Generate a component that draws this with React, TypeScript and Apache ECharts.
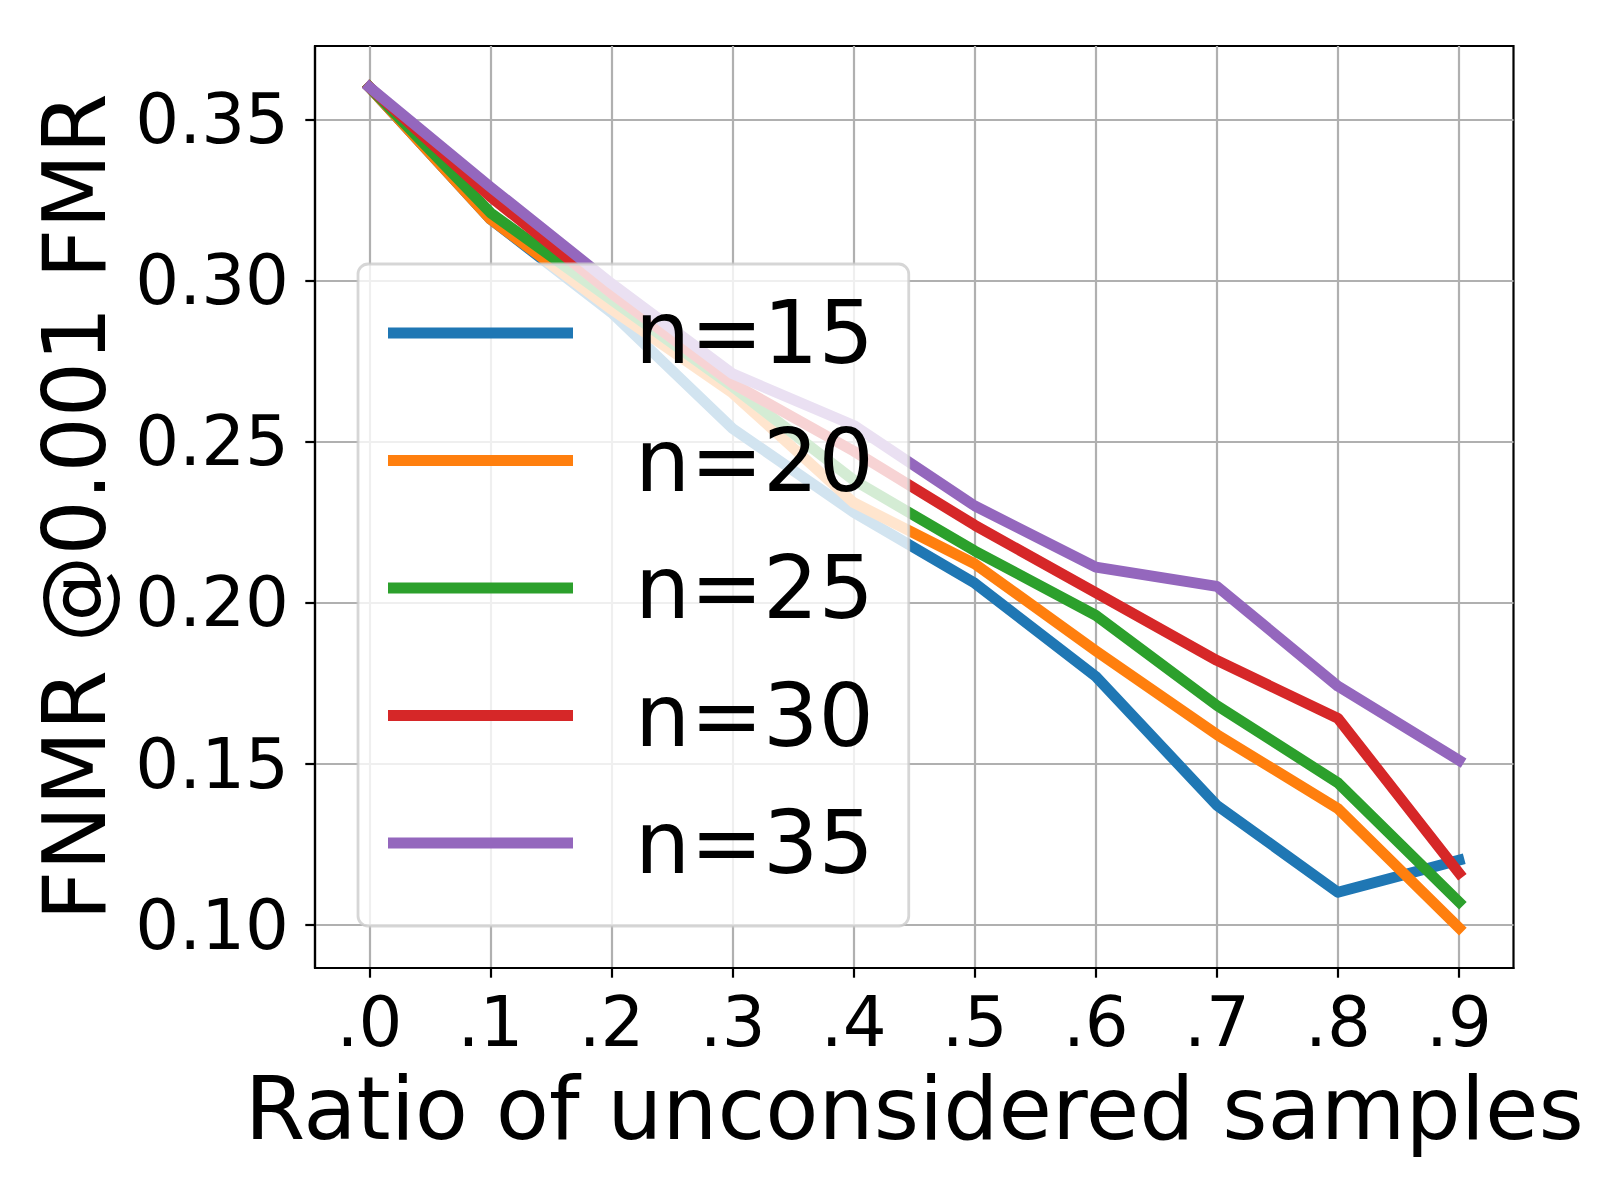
import React, { useEffect, useRef } from "react";
import * as echarts from "echarts";

const ratios = [0, 0.1, 0.2, 0.3, 0.4, 0.5, 0.6, 0.7, 0.8, 0.9];
const n15 = [0.36, 0.319, 0.29, 0.254, 0.228, 0.206, 0.177, 0.137, 0.11, 0.12];
const n20 = [0.36, 0.319, 0.291, 0.265, 0.231, 0.212, 0.185, 0.159, 0.136, 0.099];
const n25 = [0.36, 0.321, 0.294, 0.267, 0.238, 0.216, 0.196, 0.168, 0.144, 0.107];
const n30 = [0.36, 0.326, 0.296, 0.268, 0.247, 0.224, 0.203, 0.182, 0.164, 0.116];
const n35 = [0.36, 0.329, 0.299, 0.271, 0.255, 0.23, 0.211, 0.205, 0.174, 0.151];
const seriesNames = ["n=15", "n=20", "n=25", "n=30", "n=35"];
const seriesValues = [n15, n20, n25, n30, n35];
const colors = ["#1f77b4", "#ff7f0e", "#2ca02c", "#d62728", "#9467bd"];
const xTicks = [0, 0.1, 0.2, 0.3, 0.4, 0.5, 0.6, 0.7, 0.8, 0.9];
const yTicks = [0.1, 0.15, 0.2, 0.25, 0.3, 0.35];

const FONT = "'DejaVu Sans', sans-serif";

export default function App() {
  const ref = useRef<HTMLDivElement>(null);
  useEffect(() => {
    document.body.style.margin = "0";
    const chart = echarts.init(ref.current!, null, { renderer: "svg" });
    const axisCommon = {
      axisLine: { show: true, onZero: false, lineStyle: { color: "#000", width: 2.2 } },
      axisTick: { show: true, inside: false, length: 9.7, lineStyle: { color: "#000", width: 2.2 } },
      splitLine: { show: true, lineStyle: { color: "#b0b0b0", width: 2.2 } },
    };
    chart.setOption({
      animation: false,
      backgroundColor: "#ffffff",
      color: colors,
      grid: {
        left: 315,
        top: 46,
        right: 86.5,
        bottom: 232,
        show: true,
        borderColor: "#000",
        borderWidth: 2.2,
        backgroundColor: "transparent",
      },
      xAxis: {
        type: "value",
        min: -0.045,
        max: 0.945,
        ...axisCommon,
        axisTick: { ...axisCommon.axisTick, customValues: xTicks },
        axisLabel: {
          customValues: xTicks,
          margin: 19,
          fontSize: 69,
          lineHeight: 69,
          fontFamily: FONT,
          color: "#000",
          formatter: (v: number) => "." + Math.round(v * 10),
        },
        name: "Ratio of unconsidered samples",
        nameLocation: "middle",
        nameGap: 97,
        nameTextStyle: { fontSize: 87, lineHeight: 87, fontFamily: FONT, color: "#000" },
      },
      yAxis: {
        type: "value",
        min: 0.0865,
        max: 0.3728,
        ...axisCommon,
        axisTick: { ...axisCommon.axisTick, customValues: yTicks },
        axisLabel: {
          customValues: yTicks,
          margin: 26,
          fontSize: 69,
          lineHeight: 69,
          fontFamily: FONT,
          color: "#000",
          formatter: (v: number) => v.toFixed(2),
        },
        name: "FNMR @0.001 FMR",
        nameLocation: "middle",
        nameGap: 197,
        nameTextStyle: { fontSize: 87, lineHeight: 87, fontFamily: FONT, color: "#000" },
      },
      legend: {
        orient: "vertical",
        left: 358,
        top: 264,
        data: seriesNames,
        icon: "rect",
        itemWidth: 185,
        itemHeight: 10.8,
        itemGap: 27.5,
        itemStyle: { borderWidth: 0 },
        selectedMode: false,
        padding: [19, 35, 33, 30],
        backgroundColor: "rgba(255,255,255,0.8)",
        borderColor: "rgba(204,204,204,0.8)",
        borderWidth: 2.8,
        borderRadius: 10,
        textStyle: {
          fontSize: 87,
          lineHeight: 100,
          fontFamily: FONT,
          color: "#000",
          padding: [0, 0, 0, 57],
        },
      },
      series: seriesNames.map((name, i) => ({
        name,
        type: "line",
        data: ratios.map((x, j) => [x, seriesValues[i][j]]),
        showSymbol: false,
        symbol: "none",
        lineStyle: { width: 10.8, color: colors[i], cap: "square", join: "round" },
        itemStyle: { color: colors[i] },
      })),
    });
    return () => chart.dispose();
  }, []);
  return (
    <div
      ref={ref}
      style={{ position: "absolute", left: 0, top: 0, width: 1600, height: 1200 }}
    />
  );
}
